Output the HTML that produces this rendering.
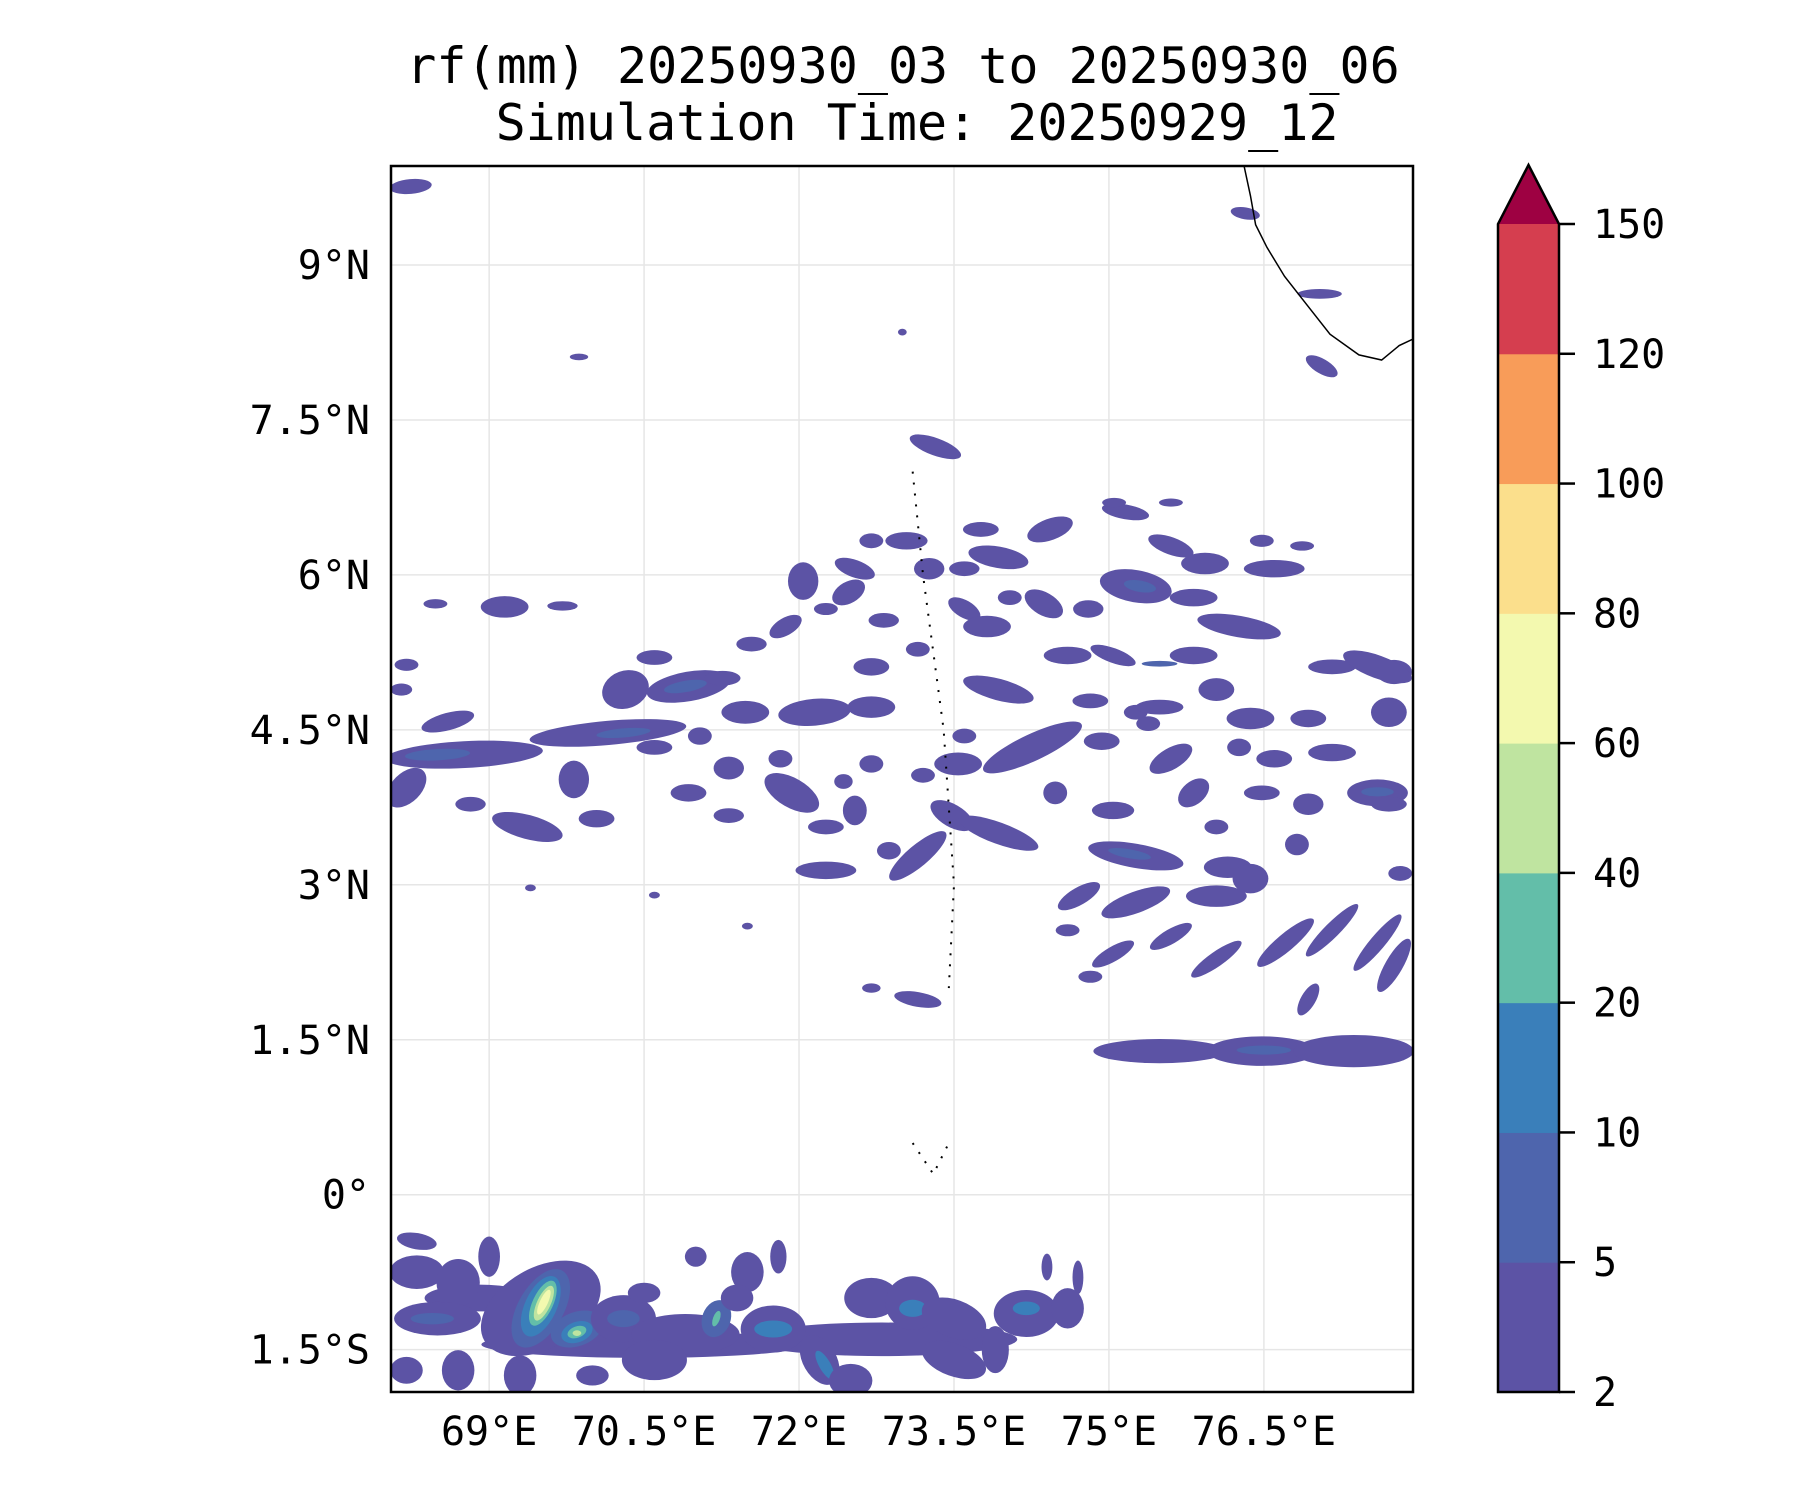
<!DOCTYPE html>
<html><head><meta charset="utf-8"><style>
html,body{margin:0;padding:0;background:#fff;}
svg{display:block;font-family:"DejaVu Sans Mono","Liberation Mono",monospace;}
</style></head><body>
<svg id="fig" width="1800" height="1500" viewBox="0 0 1800 1500" xmlns="http://www.w3.org/2000/svg">
<rect width="1800" height="1500" fill="#fff"/>
<text x="903" y="83" font-size="50" text-anchor="middle">rf(mm) 20250930_03 to 20250930_06</text>
<text x="917" y="140" font-size="50" text-anchor="middle">Simulation Time: 20250929_12</text>
<defs><clipPath id="clip"><rect x="391" y="166" width="1022" height="1226"/></clipPath></defs>
<g id="grid"></g>
<g id="marks" clip-path="url(#clip)"></g>
<g id="coast" clip-path="url(#clip)"></g>
<rect x="391" y="166" width="1022" height="1226" fill="none" stroke="#000" stroke-width="2.5"/>
<g id="ticks"></g>
<g id="cbar"></g>
</svg>
<script>
const lonTicks=[69,70.5,72,73.5,75,76.5];
const lonLabels=["69°E","70.5°E","72°E","73.5°E","75°E","76.5°E"];
const latTicks=[9,7.5,6,4.5,3,1.5,0,-1.5];
const latLabels=["9°N","7.5°N","6°N","4.5°N","3°N","1.5°N","0°","1.5°S"];
const levels=[2,5,10,20,40,60,80,100,120,150];
const levelColors=["#5c53a5","#4e65ad","#3a7fba","#63bea9","#bfe4a0","#f3f9af","#fbdf8c","#f89c59","#d53e4f","#9e0142"];
// blobs: lon, lat, length(deg), width(deg), angle(deg), level index
const blobs=[
[68.24,9.76,.39,.11,5,0],[73.32,7.24,.5,.13,-20,0],[76.32,9.5,.11,.22,80,0],[77.04,8.72,.09,.33,90,0],[77.06,8.02,.33,.11,-30,0],
[69.87,8.11,.17,.05,0,0],[73.0,8.35,.08,.05,0,0],
[68.48,5.72,.22,.07,0,0],[69.15,5.69,.44,.16,0,0],[69.71,5.7,.28,.07,0,0],[68.2,5.13,.22,.09,0,0],[68.15,4.89,.2,.09,0,0],
[68.6,4.58,.5,.13,15,0],[68.76,4.26,1.45,.2,3,0],[68.5,4.26,.6,.1,3,1],[70.15,4.47,1.45,.18,5,0],[70.3,4.47,.5,.08,5,1],
[68.2,3.94,.44,.22,45,0],[68.82,3.78,.28,.11,0,0],[69.37,3.56,.67,.18,-15,0],[70.04,3.64,.33,.13,0,0],[69.82,4.02,.28,.28,0,0],
[70.32,4.89,.44,.28,20,0],[70.93,4.92,.78,.22,10,0],[70.9,4.92,.4,.1,10,1],[70.6,5.2,.33,.11,0,0],[71.26,5.0,.33,.11,0,0],[71.54,5.33,.28,.11,0,0],
[71.87,5.5,.33,.13,30,0],[72.26,5.67,.22,.09,0,0],[71.48,4.67,.44,.17,0,0],[72.15,4.67,.67,.2,5,0],[72.7,4.72,.44,.16,0,0],
[71.32,4.13,.28,.17,0,0],[71.82,4.22,.22,.13,0,0],[71.04,4.44,.22,.13,0,0],[70.6,4.33,.33,.11,0,0],[70.93,3.89,.33,.13,0,0],
[71.32,3.67,.28,.11,0,0],[71.93,3.89,.56,.22,-30,0],[72.26,3.56,.33,.11,0,0],[72.54,3.72,.22,.22,0,0],[72.26,3.14,.56,.13,0,0],
[72.87,3.33,.22,.13,0,0],[73.15,3.28,.67,.16,40,0],[73.48,3.67,.44,.17,-30,0],[73.93,3.5,.78,.16,-20,0],[73.54,4.17,.44,.17,0,0],
[73.6,4.44,.22,.11,0,0],[73.2,4.06,.22,.11,0,0],[72.7,4.17,.22,.13,0,0],[72.43,4.0,.17,.11,0,0],
[72.04,5.94,.28,.28,0,0],[72.54,6.06,.39,.13,-20,0],[72.7,6.33,.22,.11,0,0],[73.04,6.33,.39,.13,0,0],[73.26,6.06,.28,.16,0,0],
[73.76,6.44,.33,.11,0,0],[73.93,6.17,.56,.16,-10,0],[73.6,6.06,.28,.11,0,0],[74.43,6.44,.44,.16,20,0],[74.37,5.72,.39,.17,-30,0],
[74.8,5.67,.28,.13,0,0],[75.16,6.61,.44,.11,-10,0],[75.6,6.28,.44,.13,-20,0],[75.93,6.11,.44,.16,0,0],[75.26,5.89,.67,.24,-10,0],
[75.3,5.89,.3,.1,-10,1],[75.82,5.78,.44,.13,0,0],[76.6,6.06,.56,.13,0,0],[76.48,6.33,.22,.09,0,0],[76.87,6.28,.22,.07,0,0],
[76.26,5.5,.78,.16,-10,0],[75.82,5.22,.44,.13,0,0],[77.16,5.11,.44,.11,0,0],[77.76,5.06,.33,.18,0,0],[75.05,6.7,.22,.07,0,0],[75.6,6.7,.22,.06,0,0],
[72.48,5.83,.33,.16,30,0],[72.82,5.56,.28,.11,0,0],[73.6,5.67,.33,.13,-30,0],[73.82,5.5,.44,.16,0,0],[74.04,5.78,.22,.11,0,0],
[73.15,5.28,.22,.11,0,0],[72.7,5.11,.33,.13,0,0],
[73.93,4.89,.67,.16,-15,0],[74.6,5.22,.44,.13,0,0],[75.04,5.22,.44,.11,-20,0],[75.49,5.14,.33,.05,0,1],[74.82,4.78,.33,.11,0,0],
[75.26,4.67,.22,.11,0,0],[75.49,4.72,.44,.11,0,0],[76.04,4.89,.33,.17,0,0],[76.37,4.61,.44,.16,0,0],[76.93,4.61,.33,.13,0,0],
[77.6,5.11,.67,.17,-20,0],[77.71,4.67,.33,.22,0,0],[77.16,4.28,.44,.13,0,0],[77.6,3.89,.56,.2,0,0],[77.6,3.9,.3,.08,0,1],
[74.26,4.33,1.0,.2,25,0],[74.93,4.39,.33,.13,0,0],[75.38,4.56,.22,.11,0,0],[75.6,4.22,.44,.16,30,0],[76.26,4.33,.22,.13,0,0],
[76.6,4.22,.33,.13,0,0],[74.48,3.89,.22,.17,0,0],[75.04,3.72,.39,.13,0,0],[75.82,3.89,.33,.17,40,0],[76.48,3.89,.33,.11,0,0],
[76.93,3.78,.28,.16,0,0],[76.04,3.56,.22,.11,0,0],[75.26,3.28,.89,.18,-10,0],[75.2,3.3,.4,.08,-10,1],[76.15,3.17,.44,.16,0,0],
[76.82,3.39,.22,.16,0,0],[77.71,3.78,.33,.11,0,0],[77.82,3.11,.22,.11,0,0],
[74.71,2.89,.44,.13,30,0],[75.26,2.83,.67,.16,20,0],[76.04,2.89,.56,.16,0,0],[76.37,3.06,.33,.22,0,0],[75.04,2.33,.44,.11,30,0],
[75.6,2.5,.44,.11,30,0],[76.04,2.28,.56,.11,35,0],[76.71,2.44,.67,.13,40,0],[77.16,2.56,.67,.11,45,0],[77.6,2.44,.67,.11,50,0],
[77.76,2.22,.56,.13,60,0],[76.93,1.89,.33,.11,60,0],[74.82,2.11,.22,.09,0,0],[74.6,2.56,.22,.09,0,0],
[75.49,1.39,1.22,.18,0,0],[76.48,1.39,1.0,.22,0,0],[77.37,1.39,1.11,.24,0,0],[76.5,1.4,.5,.08,0,1],
[73.15,1.89,.44,.11,-10,0],[72.7,2.0,.17,.07,0,0],[71.5,2.6,.1,.05,0,0],[70.6,2.9,.1,.05,0,0],[69.4,2.97,.1,.05,0,0],
[70.5,-1.45,3.0,.2,0,0],[72.8,-1.4,2.5,.25,0,0],[68.9,-1.0,1.0,.2,0,0],
[68.3,-0.75,.5,.25,0,0],[68.7,-0.85,.4,.35,0,0],[68.5,-1.2,.8,.25,0,0],[68.45,-1.2,.4,.1,0,1],
[69.5,-1.1,1.2,.6,30,0],[69.5,-1.1,.8,.4,60,1],[69.5,-1.08,.6,.28,65,2],[69.52,-1.05,.45,.18,65,3],[69.53,-1.05,.35,.12,65,4],[69.53,-1.04,.25,.07,65,5],
[69.85,-1.3,.5,.3,20,1],[69.85,-1.33,.3,.18,20,2],[69.85,-1.33,.18,.1,20,3],[69.85,-1.34,.08,.05,0,4],
[70.3,-1.2,.6,.35,0,0],[70.3,-1.2,.3,.15,0,1],[70.9,-1.35,1.0,.3,0,0],[71.2,-1.2,.35,.25,70,1],[71.2,-1.2,.15,.06,70,3],
[71.75,-1.3,.6,.35,0,0],[71.75,-1.3,.35,.15,0,2],[72.2,-1.6,.5,.25,-60,0],[72.25,-1.65,.3,.1,-60,2],[72.5,-1.8,.4,.25,0,0],
[72.7,-1.0,.5,.3,0,0],[73.1,-1.05,.5,.4,0,0],[73.1,-1.1,.25,.15,0,2],[73.5,-1.2,.35,.5,70,0],[74.2,-1.15,.6,.35,0,0],
[74.2,-1.1,.25,.12,0,2],[74.6,-1.1,.3,.3,0,0],[73.5,-1.6,.3,.5,70,0],[73.9,-1.5,.25,.35,0,0],
[68.2,-1.7,.3,.2,0,0],[68.7,-1.7,.3,.3,0,0],[69.3,-1.75,.3,.3,0,0],[70.0,-1.75,.3,.15,0,0],[70.6,-1.6,.6,.3,0,0],
[71.5,-0.75,.3,.3,0,0],[71.8,-0.6,.15,.25,0,0],[71.0,-0.6,.2,.15,0,0],[71.4,-1.0,.3,.2,0,0],[70.5,-0.95,.3,.15,0,0],
[74.7,-0.8,.1,.25,0,0],[74.4,-0.7,.1,.2,0,0],[68.3,-0.45,.15,.3,80,0],[69.0,-0.6,.2,.3,0,0]
];
const coastLon=[76.31,76.37,76.42,76.53,76.7,76.92,77.14,77.42,77.64,77.81,78.0];
const coastLat=[9.95,9.67,9.39,9.17,8.89,8.61,8.33,8.13,8.08,8.22,8.31];

const SVGNS="http://www.w3.org/2000/svg";
const X0=391,Y0=166,W=1022,H=1226,LON0=68.05,LAT9Y=265,PX=103.3,WSCALE=1.3;
function xs(lon){return X0+(lon-LON0)*PX;}
function ys(lat){return LAT9Y+(9-lat)*PX;}
function mk(tag,parent){const e=document.createElementNS(SVGNS,tag);parent.appendChild(e);return e;}

const grid=document.getElementById('grid');
lonTicks.forEach((v)=>{
  const l=mk('line',grid);
  
  
  l.setAttribute('x1',xs(v));l.setAttribute('x2',xs(v));l.setAttribute('y1',Y0);l.setAttribute('y2',Y0+H);
  l.setAttribute('stroke','#e6e6e6');l.setAttribute('stroke-width','1.5');
});
latTicks.forEach((v)=>{
  const l=mk('line',grid);
  
  
  l.setAttribute('x1',X0);l.setAttribute('x2',X0+W);l.setAttribute('y1',ys(v));l.setAttribute('y2',ys(v));
  l.setAttribute('stroke','#e6e6e6');l.setAttribute('stroke-width','1.5');
});

const marks=document.getElementById('marks');
blobs.forEach((b)=>{
  const e=mk('ellipse',marks);
  
  
  const cx=xs(b[0]),cy=ys(b[1]);
  const k=b[5]===0?WSCALE:1.1;
  e.setAttribute('cx',cx);e.setAttribute('cy',cy);
  e.setAttribute('rx',b[2]*PX/2*1.05);e.setAttribute('ry',b[3]*PX/2*k);
  e.setAttribute('transform','rotate('+(-b[4])+' '+cx+' '+cy+')');
  e.setAttribute('fill',levelColors[b[5]]);
});

const coast=document.getElementById('coast');
const cl=mk('polyline',coast);


cl.setAttribute('points',coastLon.map((v,i)=>xs(v)+','+ys(coastLat[i])).join(' '));
cl.setAttribute('fill','none');cl.setAttribute('stroke','#000');cl.setAttribute('stroke-width','1.5');
const isl=mk('path',coast);


isl.setAttribute('d','M'+xs(73.1)+','+ys(7.0)+' L'+xs(73.2)+','+ys(6.0)+' L'+xs(73.4)+','+ys(4.5)+' L'+xs(73.5)+','+ys(3.0)+' L'+xs(73.45)+','+ys(2.0)+' M'+xs(73.1)+','+ys(0.5)+' L'+xs(73.3)+','+ys(0.2)+' L'+xs(73.45)+','+ys(0.5));
isl.setAttribute('fill','none');isl.setAttribute('stroke','#000');isl.setAttribute('stroke-width','2');isl.setAttribute('stroke-dasharray','2 9');

const ticks=document.getElementById('ticks');
lonTicks.forEach((v,i)=>{
  const t=mk('text',ticks);
  
  
  t.setAttribute('x',xs(v));t.setAttribute('y',1445);t.setAttribute('font-size','40');t.setAttribute('text-anchor','middle');
  t.textContent=lonLabels[i];
});
latTicks.forEach((v,i)=>{
  const t=mk('text',ticks);
  
  
  t.setAttribute('x',370);t.setAttribute('y',ys(v)+14);t.setAttribute('font-size','40');t.setAttribute('text-anchor','end');
  t.textContent=latLabels[i];
});

const cbar=document.getElementById('cbar');
const CB_X=1498,CB_W=61,CB_TOP=224,CB_BOT=1392,seg=(CB_BOT-CB_TOP)/(levels.length-1);
for(let i=0;i<levels.length-1;i++){
  const r=mk('rect',cbar);
  
  
  r.setAttribute('x',CB_X);r.setAttribute('y',CB_BOT-(i+1)*seg);r.setAttribute('width',CB_W);r.setAttribute('height',seg+0.5);
  r.setAttribute('fill',levelColors[i]);
}
const tri=mk('polygon',cbar);


tri.setAttribute('points',CB_X+','+CB_TOP+' '+(CB_X+CB_W/2)+',165 '+(CB_X+CB_W)+','+CB_TOP);
tri.setAttribute('fill',levelColors[9]);
const out=mk('path',cbar);


out.setAttribute('d','M'+CB_X+','+CB_BOT+' L'+CB_X+','+CB_TOP+' L'+(CB_X+CB_W/2)+',165 L'+(CB_X+CB_W)+','+CB_TOP+' L'+(CB_X+CB_W)+','+CB_BOT+' Z');
out.setAttribute('fill','none');out.setAttribute('stroke','#000');out.setAttribute('stroke-width','2.5');
levels.forEach((v,i)=>{
  const y=CB_BOT-i*seg;
  const l=mk('line',cbar);
  
  
  l.setAttribute('x1',CB_X+CB_W);l.setAttribute('x2',CB_X+CB_W+16);l.setAttribute('y1',y);l.setAttribute('y2',y);
  l.setAttribute('stroke','#000');l.setAttribute('stroke-width','2.5');
  const t=mk('text',cbar);
  
  
  t.setAttribute('x',1593);t.setAttribute('y',y+14);t.setAttribute('font-size','40');
  t.textContent=v;
});
</script>
</body></html>
